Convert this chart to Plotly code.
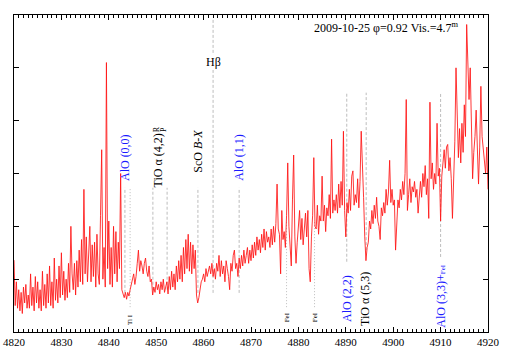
"""Spectrum 4820-4920 A with molecular band / line identifications."""
import plotly.graph_objects as go

# relative flux, sampled every 0.25 A starting at 4820.00 (4 values per A)
flux = [
    1.36, 0.50, 0.95, 0.45,  # 4820
    0.80, 0.40, 0.75, 0.35,  # 4821
    0.85, 0.55, 0.90, 0.45,  # 4822
    0.70, 0.45, 1.10, 0.50,  # 4823
    0.85, 0.40, 1.05, 0.55,  # 4824
    0.95, 0.45, 0.80, 0.40,  # 4825
    1.15, 0.50, 0.90, 0.45,  # 4826
    1.10, 0.55, 1.25, 0.50,  # 4827
    0.95, 0.45, 1.40, 0.60,  # 4828
    1.00, 0.55, 1.25, 0.65,  # 4829
    1.50, 0.70, 1.15, 0.60,  # 4830
    1.00, 0.65, 1.30, 0.75,  # 4831
    2.00, 1.10, 0.80, 1.30,  # 4832
    0.70, 1.35, 0.85, 1.55,  # 4833
    0.95, 1.75, 0.90, 2.70,  # 4834
    1.10, 1.80, 0.95, 1.55,  # 4835
    2.00, 0.95, 1.65, 1.05,  # 4836
    1.70, 0.85, 1.85, 1.10,  # 4837
    0.90, 2.20, 3.45, 1.00,  # 4838
    1.60, 0.85, 5.10, 1.20,  # 4839
    2.10, 0.90, 1.60, 0.85,  # 4840
    2.00, 1.10, 1.90, 0.95,  # 4841
    1.70, 1.20, 3.00, 0.80,  # 4842
    0.70, 0.65, 0.75, 0.62,  # 4843
    0.75, 0.68, 0.80, 0.90,  # 4844
    0.95, 1.10, 0.90, 1.05,  # 4845
    1.30, 1.55, 1.15, 1.35,  # 4846
    1.25, 1.10, 1.30, 1.40,  # 4847
    1.15, 1.05, 1.25, 0.95,  # 4848
    1.00, 0.70, 0.85, 0.75,  # 4849
    0.95, 0.80, 0.90, 0.72,  # 4850
    0.95, 0.80, 1.00, 0.75,  # 4851
    0.85, 0.95, 0.72, 1.05,  # 4852
    0.80, 1.15, 0.85, 1.10,  # 4853
    0.80, 1.25, 0.95, 1.35,  # 4854
    1.00, 1.45, 0.95, 1.60,  # 4855
    1.10, 1.75, 1.20, 1.85,  # 4856
    1.15, 1.70, 1.10, 1.65,  # 4857
    1.20, 1.55, 0.70, 0.55,  # 4858
    0.65, 0.80, 0.95, 1.00,  # 4859
    1.10, 0.95, 1.20, 1.05,  # 4860
    1.15, 1.25, 1.10, 1.30,  # 4861
    1.05, 1.20, 1.00, 1.30,  # 4862
    1.15, 1.45, 1.05, 1.35,  # 4863
    1.10, 1.25, 0.95, 1.35,  # 4864
    1.20, 1.05, 0.80, 1.30,  # 4865
    1.15, 1.45, 1.55, 1.20,  # 4866
    1.30, 1.05, 1.40, 1.20,  # 4867
    1.45, 1.25, 1.55, 1.30,  # 4868
    1.45, 1.60, 1.30, 1.55,  # 4869
    1.35, 1.65, 1.40, 1.70,  # 4870
    1.45, 1.80, 1.55, 1.75,  # 4871
    1.50, 1.85, 1.60, 1.95,  # 4872
    1.55, 1.90, 1.70, 1.80,  # 4873
    1.60, 1.95, 1.65, 2.00,  # 4874
    1.70, 2.05, 2.80, 1.95,  # 4875
    1.85, 1.10, 2.30, 1.75,  # 4876
    1.90, 1.60, 2.20, 3.20,  # 4877
    2.00, 1.50, 1.25, 2.50,  # 4878
    3.35, 1.80, 1.30, 1.70,  # 4879
    2.10, 2.30, 1.75, 2.15,  # 4880
    1.65, 1.90, 2.25, 1.80,  # 4881
    2.30, 1.20, 0.95, 1.80,  # 4882
    2.20, 3.30, 2.00, 1.95,  # 4883
    2.40, 1.85, 2.20, 2.10,  # 4884
    2.95, 2.10, 2.40, 1.90,  # 4885
    2.35, 2.20, 2.60, 2.15,  # 4886
    3.65, 2.25, 2.50, 2.30,  # 4887
    2.60, 2.25, 2.80, 2.35,  # 4888
    2.85, 2.40, 3.80, 2.30,  # 4889
    1.80, 2.45, 2.25, 2.70,  # 4890
    2.30, 2.95, 3.05, 2.40,  # 4891
    2.60, 2.45, 2.90, 2.35,  # 4892
    2.85, 3.80, 2.90, 2.55,  # 4893
    1.80, 1.35, 1.60, 1.70,  # 4894
    2.10, 1.95, 2.30, 2.05,  # 4895
    2.40, 2.15, 2.55, 2.10,  # 4896
    2.00, 1.75, 2.35, 2.20,  # 4897
    2.45, 2.25, 2.70, 2.40,  # 4898
    2.65, 3.25, 2.45, 2.70,  # 4899
    2.40, 2.50, 1.55, 2.20,  # 4900
    2.50, 2.35, 2.70, 2.50,  # 4901
    2.85, 2.60, 3.00, 4.40,  # 4902
    2.30, 2.60, 2.90, 2.45,  # 4903
    2.75, 2.65, 2.85, 2.55,  # 4904
    2.70, 2.25, 2.60, 2.85,  # 4905
    2.55, 3.00, 2.75, 3.15,  # 4906
    2.60, 2.90, 2.15, 4.35,  # 4907
    2.90, 3.20, 2.70, 3.00,  # 4908
    2.80, 3.95, 2.95, 3.10,  # 4909
    2.10, 2.95, 3.20, 3.45,  # 4910
    3.10, 3.50, 3.55, 3.05,  # 4911
    3.30, 2.90, 2.15, 3.00,  # 4912
    3.60, 5.00, 4.00, 3.30,  # 4913
    3.85, 3.20, 3.95, 3.40,  # 4914
    4.30, 3.70, 5.82, 5.10,  # 4915
    4.40, 5.00, 3.90, 2.90,  # 4916
    3.40, 3.70, 4.20, 3.60,  # 4917
    2.80, 3.50, 4.65, 3.70,  # 4918
    3.45, 3.20, 3.00, 3.50,  # 4919
    2.70,                    # 4920
]
wave_start = 4820.0
wave_step = 0.25
wavelength = [wave_start + wave_step * i for i in range(len(flux))]

# identification markers: wavelength, top and bottom of the marker (flux units), dash
markers = [
    (4843.4, 2.73, 0.74, "dash"),   # AlO (0,0)
    (4844.5, 2.73, 0.47, "dot"),    # Ti I
    (4849.3, 2.73, 0.80, "dash"),   # TiO R
    (4852.3, 2.73, 0.80, "dash"),   # TiO P
    (4858.8, 2.73, 0.74, "dash"),   # ScO
    (4862.0, 5.91, 0.74, "dash"),   # H beta
    (4867.5, 2.73, 0.74, "dash"),   # AlO (1,1)
    (4877.5, 2.12, 0.47, "dot"),    # Fe I
    (4883.4, 2.12, 0.47, "dot"),    # Fe I
    (4890.2, 4.53, 1.33, "dash"),   # AlO (2,2)
    (4894.3, 4.53, 1.55, "dash"),   # TiO (5,3)
    (4910.0, 4.53, 1.42, "dash"),   # AlO (3,3)+FeI
]
DASHES = {"dash": "3px,2px", "dot": "1px,2px"}

# labels: wavelength, flux, text, colour, size, angle
labels = [
    (4843.4, 3.31, "AlO (0,0)", "#1a1aff", 12, -90),
    (4850.3, 3.24, "TiO α (4,2)", "black", 12, -90),
    (4850.0, 3.84, "R", "black", 8, -90),
    (4851.4, 3.84, "P", "black", 8, -90),
    (4858.9, 3.42, "ScO <i>B-X</i>", "black", 12, -90),
    (4862.0, 5.11, "Hβ", "black", 12, 0),
    (4867.4, 3.31, "AlO (1,1)", "#1a1aff", 12, -90),
    (4844.5, 0.23, "Ti I", "black", 7, -90),
    (4877.5, 0.27, "FeI", "black", 7, -90),
    (4883.4, 0.27, "FeI", "black", 7, -90),
    (4890.2, 0.64, "AlO (2,2)", "#1a1aff", 12, -90),
    (4894.2, 0.62, "TiO α (5,3)", "black", 12, -90),
    (4910.0, 0.68, "AlO (3,3)+<span style='font-size:7px'>FeI</span>", "#1a1aff", 12, -90),
]

SERIF = "Liberation Serif, Times New Roman, serif"

fig = go.Figure()
for wl, top, bot, dash in markers:
    fig.add_shape(type="line", x0=wl, x1=wl, y0=bot, y1=top, xref="x", yref="y",
                  line=dict(color="#bdbdbd", width=1, dash=DASHES[dash]), layer="below")

fig.add_trace(go.Scatter(
    x=wavelength, y=flux, mode="lines",
    line=dict(color="rgba(255,20,20,0.85)", width=1),
    hoverinfo="skip", showlegend=False,
))

for wl, fl, txt, col, size, ang in labels:
    fig.add_annotation(x=wl, y=fl, text=txt, showarrow=False, textangle=ang,
                       font=dict(family=SERIF, size=size, color=col),
                       bgcolor="white" if ang == 0 else "rgba(0,0,0,0)", borderpad=0)

fig.add_annotation(x=0.941, y=0.962, xref="paper", yref="paper",
                   text="2009-10-25 φ=0.92 Vis.=4.7<sup>m</sup>", showarrow=False,
                   xanchor="right", yanchor="middle",
                   font=dict(family=SERIF, size=12, color="black"))

fig.update_xaxes(range=[4820, 4920], dtick=10, tick0=4820, ticks="inside", ticklen=5,
                 minor=dict(dtick=1, ticks="inside", ticklen=3, tickcolor="black"),
                 showline=True, linecolor="black", linewidth=1, mirror="ticks",
                 showgrid=False, zeroline=False, tickcolor="black", automargin=False,
                 ticklabeloverflow="allow",
                 tickfont=dict(family=SERIF, size=11, color="black"))
fig.update_yaxes(range=[0, 6], dtick=1, ticks="inside", ticklen=5, automargin=False,
                 showticklabels=False, showline=True, linecolor="black", linewidth=1,
                 mirror="ticks", showgrid=False, zeroline=False, tickcolor="black")

fig.update_layout(
    width=509, height=356,
    margin=dict(l=14, r=21, t=15, b=24, autoexpand=False),
    plot_bgcolor="white", paper_bgcolor="white",
    showlegend=False,
)

# drop the browser's default 8 px body margin so the figure fills the window
fig.write_html("out.html", config={"displayModeBar": False},
               post_script="document.body.style.margin = '0px';")
